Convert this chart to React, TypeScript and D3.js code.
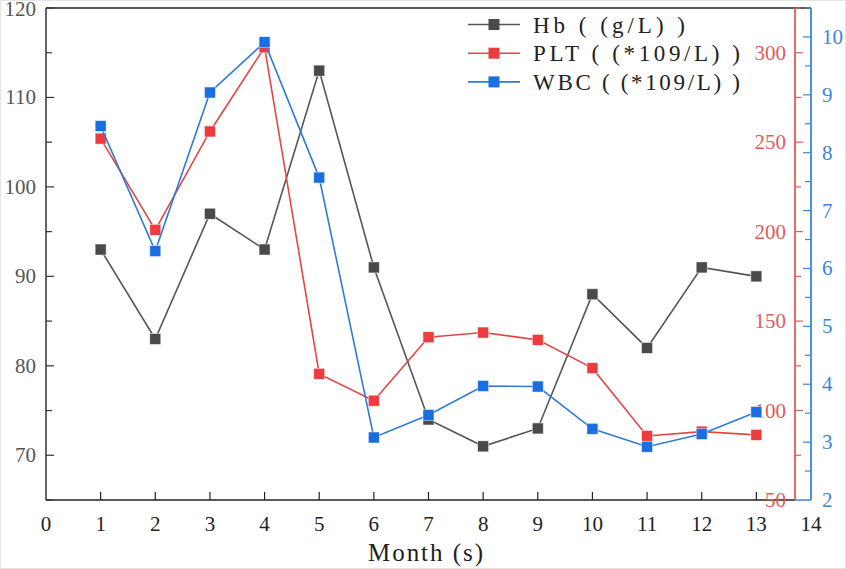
import React from 'react';
import { scaleLinear, line, range } from 'd3';

const width = 846;
const height = 569;

const months = [1, 2, 3, 4, 5, 6, 7, 8, 9, 10, 11, 12, 13];
const hb = [93, 83, 97, 93, 113, 91, 74, 71, 73, 88, 82, 91, 90];
const plt = [252, 201, 256, 303, 120.5, 105.5, 141, 143.6, 139.5, 123.7, 85.8, 88.2, 86.4];
const wbc = [8.46, 6.3, 9.04, 9.91, 7.57, 3.08, 3.47, 3.97, 3.96, 3.23, 2.92, 3.14, 3.52];

const xTicks = range(0, 15);
const hbTicks = [70, 80, 90, 100, 110, 120];
const pltTicks = [50, 100, 150, 200, 250, 300];
const wbcTicks = [2, 3, 4, 5, 6, 7, 8, 9, 10];

const series = [
  { name: 'Hb ( (g/L) )', values: hb, color: '#4a4a4a', line: '#555555', len: 152 },
  { name: 'PLT ( (*109/L) )', values: plt, color: '#ee3b3f', line: '#e04848', len: 207 },
  { name: 'WBC ( (*109/L) )', values: wbc, color: '#1a6ee0', line: '#2f7bd6', len: 207 },
];

const left = 46;
const top = 8;
const bottom = 500;
const redX = 795;
const blueX = 811;

const font = '"Liberation Serif", serif';

const App = () => {
  const x = scaleLinear().domain([0, 14]).range([left, blueX]);
  const yHb = scaleLinear().domain([65, 120]).range([bottom, top]);
  const yPlt = scaleLinear().domain([50, 325]).range([bottom, top]);
  const yWbc = scaleLinear().domain([2, 10.5]).range([bottom, top]);
  const scales = [yHb, yPlt, yWbc];

  const red = '#e35a5a';
  const blue = '#3a86d8';

  return (
    <svg width={width} height={height} style={{ position: 'absolute', left: 0, top: 0, background: '#fff' }}
      fontFamily={font}>
      <rect x={0.5} y={0.5} width={width - 1} height={height - 1} fill="none" stroke="#e4e4e4" />
      {/* frame */}
      <line x1={left} x2={blueX} y1={top} y2={top} stroke="#222" strokeWidth={1.5} />
      <line x1={left} x2={redX} y1={bottom} y2={bottom} stroke="#222" strokeWidth={1.5} />
      <line x1={left} x2={left} y1={top} y2={bottom} stroke="#333" strokeWidth={1.5} />

      {/* x axis */}
      {xTicks.map(t => (
        <g key={t}>
          {t > 0 && t < 14 && <line x1={x(t)} x2={x(t)} y1={bottom} y2={bottom - 8} stroke="#222" strokeWidth={1.2} />}
          <text x={x(t)} y={531} textAnchor="middle" fontSize={21} fill="#222">{t}</text>
        </g>
      ))}
      <text x={368} y={561} fontSize={25} fill="#222" textLength={115} lengthAdjust="spacing">Month (s)</text>

      {/* left axis */}
      {range(65, 121, 5).map(t => (
        <line key={t} x1={left} x2={left + (t % 10 === 0 ? 8 : 6)} y1={yHb(t)} y2={yHb(t)} stroke="#333" strokeWidth={1.2} />
      ))}
      {hbTicks.map(t => (
        <text key={t} x={36} y={Math.max(yHb(t) + 7, 16)} textAnchor="end" fontSize={21} fill="#555">{t}</text>
      ))}

      {/* red axis */}
      <line x1={redX} x2={redX} y1={top} y2={bottom} stroke={red} strokeWidth={1.8} />
      {range(75, 326, 25).map(t => (
        <line key={t} x1={redX} x2={redX + (t % 50 === 0 ? 8 : 6)} y1={yPlt(t)} y2={yPlt(t)} stroke={red} strokeWidth={1.2} />
      ))}
      {pltTicks.map(t => (
        <text key={t} x={786} y={yPlt(t) + 7} textAnchor="end" fontSize={21} fill={red}>{t}</text>
      ))}

      {/* blue axis */}
      <line x1={blueX} x2={blueX} y1={top} y2={bottom} stroke={blue} strokeWidth={1.8} />
      <line x1={redX} x2={blueX} y1={bottom} y2={bottom} stroke={blue} strokeWidth={1.5} />
      {range(2.5, 10.6, 0.5).map(t => (
        <line key={t} x1={blueX} x2={blueX - (t % 1 === 0 ? 8 : 6)} y1={yWbc(t)} y2={yWbc(t)} stroke={blue} strokeWidth={1.2} />
      ))}
      {wbcTicks.map(t => (
        <text key={t} x={822} y={yWbc(t) + 7} textAnchor="start" fontSize={21} fill={blue}>{t}</text>
      ))}

      {/* series */}
      {series.map((s, i) => {
        const y = scales[i];
        const path = line<number>().x((d, j) => x(months[j])).y(d => y(d))(s.values);
        return (
          <g key={s.name}>
            <path d={path || ''} fill="none" stroke={s.line} strokeWidth={1.6} />
            {s.values.map((v, j) => (
              <rect key={j} x={x(months[j]) - 5.5} y={y(v) - 5.5} width={11} height={11}
                fill={s.color} stroke="#ffffff" strokeOpacity={0.6} strokeWidth={0.8} />
            ))}
          </g>
        );
      })}

      {/* legend */}
      {series.map((s, i) => {
        const ly = 24.5 + i * 28.7;
        return (
          <g key={s.name}>
            <line x1={468} x2={520} y1={ly} y2={ly} stroke={s.line} strokeWidth={1.6} />
            <rect x={488.5} y={ly - 5.5} width={11} height={11} fill={s.color} />
            <text x={533} y={ly + 8} fontSize={23} fill="#222" textLength={s.len} lengthAdjust="spacing">{s.name}</text>
          </g>
        );
      })}
    </svg>
  );
};

export default App;
